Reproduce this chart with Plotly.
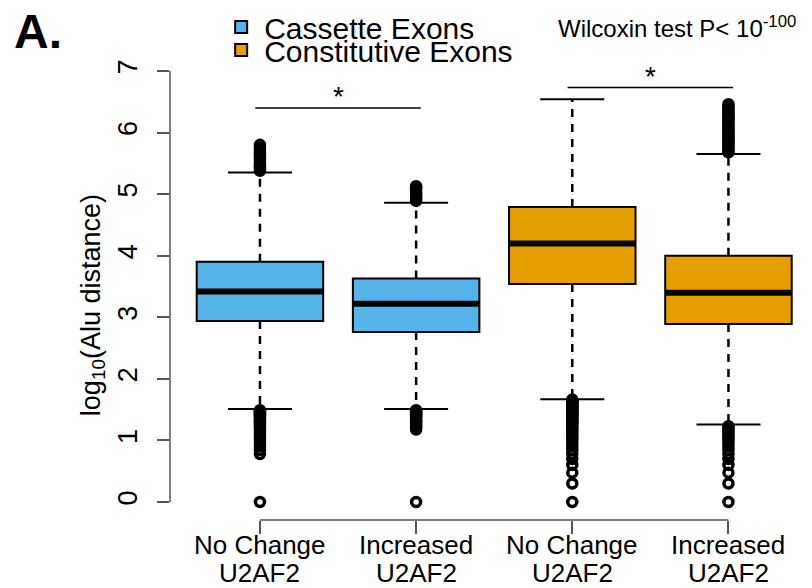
import plotly.graph_objects as go

# ---------------- data ----------------
positions = [1, 2, 3, 4]
label_line1 = ["No Change", "Increased", "No Change", "Increased"]
label_line2 = ["U2AF2", "U2AF2", "U2AF2", "U2AF2"]
groups = ["Cassette Exons", "Cassette Exons", "Constitutive Exons", "Constitutive Exons"]
group_colors = {"Cassette Exons": "#56B4E9", "Constitutive Exons": "#E69F00"}

q1 = [2.94, 2.76, 3.54, 2.89]
median = [3.42, 3.22, 4.20, 3.40]
q3 = [3.90, 3.63, 4.79, 4.00]
lower_whisker = [1.51, 1.51, 1.67, 1.26]
upper_whisker = [5.35, 4.86, 6.54, 5.65]

outliers_upper = [
    [5.38, 5.41, 5.44, 5.47, 5.50, 5.53, 5.56, 5.59, 5.62, 5.65, 5.68, 5.71, 5.74, 5.77, 5.80],
    [4.89, 4.92, 4.95, 4.98, 5.01, 5.04, 5.07, 5.10, 5.13],
    [],
    [5.68, 5.71, 5.74, 5.77, 5.80, 5.83, 5.86, 5.89, 5.92, 5.95, 5.98, 6.01, 6.04, 6.07,
     6.10, 6.13, 6.16, 6.19, 6.22, 6.25, 6.28, 6.31, 6.34, 6.37, 6.40, 6.43, 6.46],
]
outliers_lower = [
    [1.491, 1.477, 1.462, 1.447, 1.431, 1.415, 1.398, 1.380, 1.362, 1.342, 1.322, 1.301,
     1.279, 1.255, 1.230, 1.204, 1.176, 1.146, 1.114, 1.079, 1.041, 1.000, 0.954, 0.903,
     0.845, 0.778, 0.000],
    [1.491, 1.477, 1.462, 1.447, 1.431, 1.415, 1.398, 1.380, 1.362, 1.342, 1.322, 1.301,
     1.279, 1.255, 1.230, 1.204, 1.176, 0.000],
    [1.663, 1.653, 1.643, 1.633, 1.623, 1.613, 1.602, 1.591, 1.580, 1.568, 1.556, 1.544,
     1.531, 1.519, 1.505, 1.491, 1.477, 1.462, 1.447, 1.431, 1.415, 1.398, 1.380, 1.362,
     1.342, 1.322, 1.301, 1.279, 1.255, 1.230, 1.204, 1.176, 1.146, 1.114, 1.079, 1.041,
     1.000, 0.954, 0.903, 0.845, 0.778, 0.699, 0.602, 0.477, 0.301, 0.000],
    [1.230, 1.204, 1.176, 1.146, 1.114, 1.079, 1.041, 1.000, 0.954, 0.903, 0.845, 0.778,
     0.699, 0.602, 0.477, 0.301, 0.000],
]

# significance brackets: (left box, right box, height)
sig_pairs = [(1, 2, 6.40), (3, 4, 6.73)]

y_ticks = [0, 1, 2, 3, 4, 5, 6, 7]

FONT = "Liberation Sans, Arial, Helvetica, sans-serif"
BOX_W = 0.81
CAP_HALF = 0.205

fig = go.Figure()

# boxes (bars spanning Q1..Q3)
for gi, grp in enumerate(["Cassette Exons", "Constitutive Exons"]):
    idx = [i for i, g in enumerate(groups) if g == grp]
    fig.add_trace(go.Bar(
        x=[positions[i] for i in idx],
        y=[q3[i] - q1[i] for i in idx],
        base=[q1[i] for i in idx],
        width=BOX_W,
        marker=dict(color=group_colors[grp], line=dict(color="black", width=2)),
        name=grp,
        legend="legend" if gi == 0 else "legend2",
        hoverinfo="skip",
    ))

# dashed whiskers
wx, wy = [], []
for i, p in enumerate(positions):
    wx += [p, p, None, p, p, None]
    wy += [q3[i], upper_whisker[i], None, q1[i], lower_whisker[i], None]
fig.add_trace(go.Scatter(x=wx, y=wy, mode="lines", showlegend=False, hoverinfo="skip",
                         line=dict(color="black", width=2.5, dash="8px,7px")))

# whisker caps
cx, cy = [], []
for i, p in enumerate(positions):
    cx += [p - CAP_HALF, p + CAP_HALF, None, p - CAP_HALF, p + CAP_HALF, None]
    cy += [upper_whisker[i], upper_whisker[i], None, lower_whisker[i], lower_whisker[i], None]
fig.add_trace(go.Scatter(x=cx, y=cy, mode="lines", showlegend=False, hoverinfo="skip",
                         line=dict(color="black", width=2)))

# medians
mx, my = [], []
for i, p in enumerate(positions):
    mx += [p - BOX_W / 2, p + BOX_W / 2, None]
    my += [median[i], median[i], None]
fig.add_trace(go.Scatter(x=mx, y=my, mode="lines", showlegend=False, hoverinfo="skip",
                         line=dict(color="black", width=6)))

# outliers
ox, oy = [], []
for i, p in enumerate(positions):
    for v in outliers_upper[i] + outliers_lower[i]:
        ox.append(p)
        oy.append(v)
fig.add_trace(go.Scatter(x=ox, y=oy, mode="markers", showlegend=False, hoverinfo="skip",
                         marker=dict(symbol="circle-open", size=9, color="black",
                                     line=dict(width=3.5, color="black"))))

# significance lines
sx, sy = [], []
for a, b, h in sig_pairs:
    sx += [a - 0.03, b + 0.03, None]
    sy += [h, h, None]
fig.add_trace(go.Scatter(x=sx, y=sy, mode="lines", showlegend=False, hoverinfo="skip",
                         line=dict(color="black", width=1.5)))

annotations = []
for a, b, h in sig_pairs:
    annotations.append(dict(x=(a + b) / 2, y=h, xref="x", yref="y", text="*",
                            showarrow=False, yanchor="bottom", yshift=-6,
                            font=dict(family=FONT, size=28, color="black")))
for i, p in enumerate(positions):
    annotations.append(dict(x=p, y=0, xref="x", yref="paper", text=label_line1[i],
                            showarrow=False, yanchor="middle", yshift=-25,
                            font=dict(family=FONT, size=26, color="black")))
    annotations.append(dict(x=p, y=0, xref="x", yref="paper", text=label_line2[i],
                            showarrow=False, yanchor="middle", yshift=-53,
                            font=dict(family=FONT, size=26, color="black")))
annotations.append(dict(x=-0.12, y=0.46, xref="paper", yref="paper",
                        text="log<sub>10</sub>(Alu distance)", textangle=-90,
                        showarrow=False, xanchor="center", yanchor="middle",
                        font=dict(family=FONT, size=27, color="black")))
annotations.append(dict(x=-0.246, y=1.045, xref="paper", yref="paper", text="<b>A.</b>",
                        showarrow=False, xanchor="left", yanchor="middle",
                        font=dict(family=FONT, size=48, color="black")))
annotations.append(dict(x=0.601, y=1.0557, xref="paper", yref="paper",
                        text="Wilcoxin test P&lt; 10<sup>-100</sup>",
                        showarrow=False, xanchor="left", yanchor="middle",
                        font=dict(family=FONT, size=24, color="black")))

shapes = [
    dict(type="line", xref="paper", yref="y", x0=0, x1=0, y0=y_ticks[0], y1=y_ticks[-1],
         line=dict(color="#555555", width=1.5)),
    dict(type="line", xref="x", yref="paper", x0=positions[0], x1=positions[-1], y0=0, y1=0,
         line=dict(color="#555555", width=1.5)),
]

fig.update_layout(
    width=812, height=588,
    margin=dict(l=170, r=0, t=53, b=68),
    paper_bgcolor="white", plot_bgcolor="white",
    barmode="overlay",
    font=dict(family=FONT, color="black"),
    xaxis=dict(range=[0.424, 4.535], tickvals=positions, ticktext=["", "", "", ""],
               ticks="outside", ticklen=13, tickwidth=1.5, tickcolor="#555555",
               showgrid=False, zeroline=False, showline=False),
    yaxis=dict(range=[-0.292, 7.292], tickvals=y_ticks, tickangle=-90,
               ticks="outside", ticklen=12, tickwidth=1.5, tickcolor="#555555",
               showgrid=False, zeroline=False, showline=False,
               tickfont=dict(family=FONT, size=27, color="black"), ticklabelstandoff=9),
    legend=dict(x=0.075, y=1.0557, xanchor="left", yanchor="middle", itemwidth=36,
                bgcolor="rgba(0,0,0,0)", font=dict(family=FONT, size=30, color="black")),
    legend2=dict(x=0.075, y=1.0064, xanchor="left", yanchor="middle", itemwidth=36,
                 bgcolor="rgba(0,0,0,0)", font=dict(family=FONT, size=30, color="black")),
    annotations=annotations,
    shapes=shapes,
)

fig.write_html("out.html")
